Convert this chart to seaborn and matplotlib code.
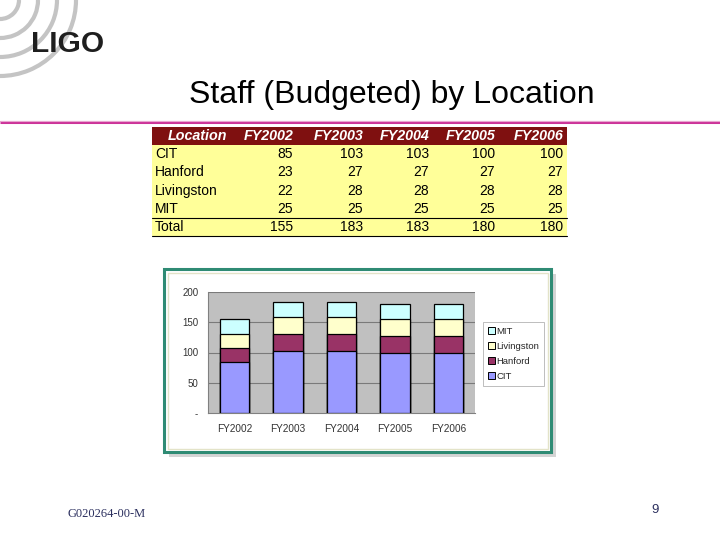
import matplotlib
matplotlib.use("Agg")
import matplotlib.pyplot as plt
import matplotlib.patches as mpatches
import seaborn as sns
import pandas as pd
import numpy as np

# ---- data ----
years = ["FY2002", "FY2003", "FY2004", "FY2005", "FY2006"]
locations = ["CIT", "Hanford", "Livingston", "MIT"]
cit = [85, 103, 103, 100, 100]
hanford = [23, 27, 27, 27, 27]
livingston = [22, 28, 28, 28, 28]
mit = [25, 25, 25, 25, 25]
totals = [155, 183, 183, 180, 180]
yticks = [0, 50, 100, 150, 200]
ytick_labels = ["-", "50", "100", "150", "200"]

colors = {"CIT": "#9999FF", "Hanford": "#993366", "Livingston": "#FFFFCC", "MIT": "#CCFFFF"}

sns.set_theme(style="white")
plt.rcParams["font.family"] = ["Liberation Sans", "DejaVu Sans"]

W, H = 720, 540
fig = plt.figure(figsize=(7.2, 5.4), dpi=100)

# background pixel-coordinate axes
bg = fig.add_axes([0, 0, 1, 1])
bg.set_xlim(0, W)
bg.set_ylim(H, 0)
bg.axis("off")

# logo arcs
for r in [19, 38, 57, 76]:
    bg.add_patch(mpatches.Arc((0, 0), 2 * r, 2 * r, theta1=0, theta2=360,
                              color="#C4C4C4", lw=3.0))
bg.text(31, 52, "LIGO", fontsize=21.5, fontweight="heavy", color="#1E1E1E",
        va="baseline", ha="left")

# title
bg.text(392, 103, "Staff (Budgeted) by Location", fontsize=23, color="black",
        ha="center", va="baseline")

# magenta rule
bg.plot([0, 720], [122, 122], color="#CC3399", lw=2.2, solid_capstyle="butt")
bg.plot([0, 720], [120.5, 120.5], color="#E9A6D0", lw=0.8, solid_capstyle="butt")

# ---- table ----
tx0, tx1 = 152, 567
row_h = 18.2
ty0 = 127
bg.add_patch(mpatches.Rectangle((tx0, ty0), tx1 - tx0, row_h, facecolor="#7F1010",
                                edgecolor="none"))
bg.add_patch(mpatches.Rectangle((tx0, ty0 + row_h), tx1 - tx0, row_h * 5, facecolor="#FFFF99",
                                edgecolor="none"))
col_right = [293, 363, 429, 495, 563]
hy = ty0 + row_h / 2
bg.text(197, hy, "Location", color="white", fontsize=10.3, fontweight="bold",
        style="italic", ha="center", va="center")
for x, yname in zip(col_right, years):
    bg.text(x, hy, yname, color="white", fontsize=10.3, fontweight="bold",
            style="italic", ha="right", va="center")
rows = [("CIT", cit), ("Hanford", hanford), ("Livingston", livingston), ("MIT", mit),
        ("Total", totals)]
for i, (name, vals) in enumerate(rows):
    cy = ty0 + row_h * (i + 1) + row_h / 2
    bg.text(155, cy, name, fontsize=10, ha="left", va="center", color="black")
    for x, v in zip(col_right, vals):
        bg.text(x, cy, str(v), fontsize=10, ha="right", va="center", color="black")
bg.plot([tx0, tx1], [ty0 + row_h * 5, ty0 + row_h * 5], color="black", lw=0.8)
bg.plot([tx0, tx1], [ty0 + row_h * 6, ty0 + row_h * 6], color="black", lw=0.8)

# ---- chart frame ----
bg.add_patch(mpatches.Rectangle((169, 274), 387, 183, facecolor="#D4D4D4",
                                edgecolor="none", zorder=1))
bg.add_patch(mpatches.Rectangle((164, 269), 387, 183, facecolor="white",
                                edgecolor="#2F8B74", lw=2.2, zorder=2))
bg.add_patch(mpatches.Rectangle((167.5, 272.5), 380, 176, facecolor="none",
                                edgecolor="#E3E3C8", lw=1.0, zorder=3))

# footer
bg.text(67, 514, "G020264-00-M", fontsize=9, color="#2B2F5E", ha="left", va="center",
        family=["Liberation Serif", "DejaVu Serif"])
bg.text(655, 510, "9", fontsize=9.5, color="#2B2F5E", ha="center", va="center")

# ---- bar chart ----
ax = fig.add_axes([208 / W, 1 - 413 / H, 267 / W, 121 / H])
ax.set_facecolor("#C0C0C0")
df = pd.DataFrame({"year": years, "CIT": cit, "Hanford": hanford,
                   "Livingston": livingston, "MIT": mit})
cum = df[locations].cumsum(axis=1)
for loc in reversed(locations):
    sns.barplot(x=df["year"], y=cum[loc], color=colors[loc], saturation=1,
                width=0.55, edgecolor="black", linewidth=0.9, errorbar=None, ax=ax,
                zorder=3)
ax.set_ylim(0, 200)
ax.set_xlim(-0.5, 4.5)
ax.set_yticks(yticks)
ax.set_yticklabels(ytick_labels)
for y in yticks[1:]:
    ax.axhline(y, color="#7A7A7A", lw=0.8, zorder=1)
ax.set_xlabel("")
ax.set_ylabel("")
for s in ["top", "right"]:
    ax.spines[s].set_visible(False)
for s in ["left", "bottom"]:
    ax.spines[s].set_color("#808080")
    ax.spines[s].set_linewidth(0.8)
ax.tick_params(axis="x", labelsize=7.2, colors="#333333", length=0, pad=8)
ax.tick_params(axis="y", labelsize=7, colors="#333333", length=3, direction="out",
               pad=4)
ax.tick_params(axis="y", color="#808080")
ax.set_xticks(np.arange(-0.5, 5, 1), minor=True)
ax.tick_params(axis="x", which="minor", length=3, color="#808080")

handles = [mpatches.Patch(facecolor=colors[l], edgecolor="black", lw=0.7, label=l)
           for l in reversed(locations)]
leg = fig.legend(handles=handles, loc="upper left",
                 bbox_to_anchor=(483 / W, 1 - 322 / H), fontsize=6.8,
                 frameon=True, fancybox=False, edgecolor="#A0A0A0",
                 handlelength=0.75, handleheight=0.75, handletextpad=0.2,
                 labelspacing=0.65, borderpad=0.5, borderaxespad=0)
leg.get_frame().set_linewidth(0.6)

fig.savefig("out.png", dpi=100)
